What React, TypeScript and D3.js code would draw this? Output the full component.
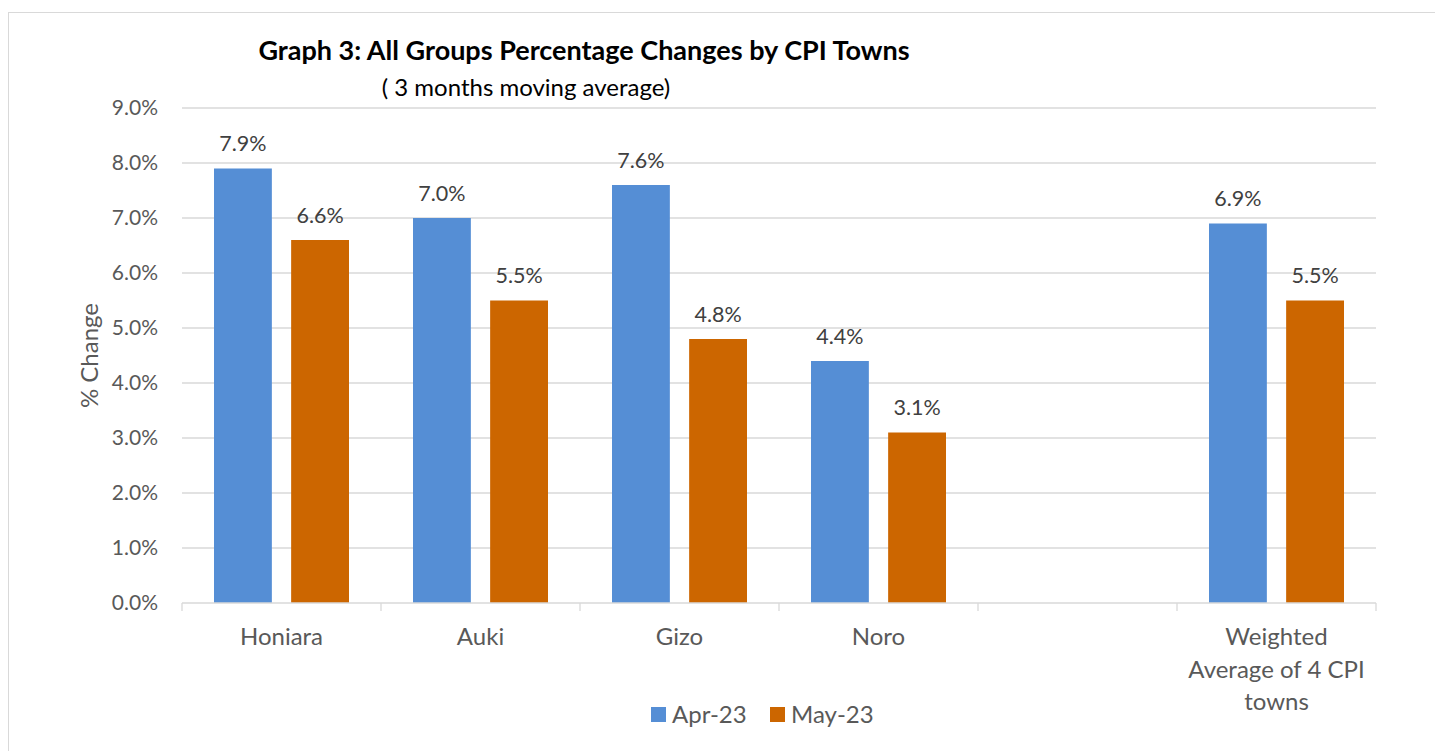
import React, { useEffect, useRef } from 'react'
import * as d3 from 'd3'

const categories = ['Honiara', 'Auki', 'Gizo', 'Noro', '', 'Weighted Average of 4 CPI towns']
const categoryLines = [['Honiara'], ['Auki'], ['Gizo'], ['Noro'], [], ['Weighted', 'Average of 4 CPI', 'towns']]
const seriesNames = ['Apr-23', 'May-23']
const apr23 = [7.9, 7.0, 7.6, 4.4, null, 6.9]
const may23 = [6.6, 5.5, 4.8, 3.1, null, 5.5]
const yTicks = [0, 1, 2, 3, 4, 5, 6, 7, 8, 9]
const colors = ['#558ed5', '#cc6600']

const FONT = 'Lato, "Open Sans", sans-serif'
const TEXT = '#595959'

export default function App() {
  const ref = useRef<SVGSVGElement | null>(null)

  useEffect(() => {
    if (!ref.current) return
    const svg = d3.select(ref.current)
    svg.selectAll('*').remove()
    const W = 1435
    const H = 751

    // chart frame (runs off the page to the right and bottom, as in the source)
    svg.append('rect')
      .attr('x', 8.5).attr('y', 12.5)
      .attr('width', W).attr('height', H)
      .attr('fill', '#fff').attr('stroke', '#d9d9d9')

    const x0 = d3.scaleBand<string>().domain(categories.map((c, i) => String(i))).range([182, 1376]).padding(0)
    const y = d3.scaleLinear().domain([0, 9]).range([603, 108])
    const x1 = d3.scaleBand<string>().domain(seriesNames).range([32, 167]).paddingInner(0.25)

    // gridlines
    svg.append('g')
      .selectAll('line')
      .data(yTicks.filter((t) => t > 0))
      .join('line')
      .attr('x1', 182).attr('x2', 1376)
      .attr('y1', (d) => y(d)).attr('y2', (d) => y(d))
      .attr('stroke', '#d9d9d9').attr('stroke-width', 1.3)

    // y tick labels
    svg.append('g')
      .selectAll('text')
      .data(yTicks)
      .join('text')
      .attr('x', 158)
      .attr('y', (d) => y(d))
      .attr('dy', '0.35em')
      .attr('text-anchor', 'end')
      .style('font-family', FONT).style('font-size', '21px').style('fill', TEXT)
      .text((d) => d3.format('.1f')(d) + '%')

    // y axis title
    svg.append('text')
      .attr('transform', `translate(98,${y(4.5)}) rotate(-90)`)
      .attr('text-anchor', 'middle')
      .style('font-family', FONT).style('font-size', '24px').style('fill', TEXT)
      .text('% Change')

    // bars
    const seriesData = [apr23, may23]
    seriesData.forEach((vals, si) => {
      const g = svg.append('g')
      const rows = vals.map((v, i) => ({ v, i })).filter((d) => d.v != null) as { v: number; i: number }[]
      g.selectAll('rect')
        .data(rows)
        .join('rect')
        .attr('x', (d) => x0(String(d.i))! + x1(seriesNames[si])!)
        .attr('width', x1.bandwidth())
        .attr('y', (d) => y(d.v))
        .attr('height', (d) => y(0) - y(d.v))
        .attr('fill', colors[si])
      g.selectAll('text')
        .data(rows)
        .join('text')
        .attr('x', (d) => x0(String(d.i))! + x1(seriesNames[si])! + x1.bandwidth() / 2)
        .attr('y', (d) => y(d.v) - 25)
        .attr('dy', '0.35em')
        .attr('text-anchor', 'middle')
        .style('font-family', FONT).style('font-size', '21.5px').style('fill', '#404040')
        .text((d) => d3.format('.1f')(d.v) + '%')
    })

    // x axis line and ticks
    const ax = svg.append('g').attr('stroke', '#d9d9d9').attr('stroke-width', 1.3)
    ax.append('line').attr('x1', 182).attr('x2', 1376).attr('y1', y(0)).attr('y2', y(0))
    const edges = categories.map((c, i) => x0(String(i))!).concat([1376])
    ax.selectAll('line.tick')
      .data(edges)
      .join('line')
      .attr('class', 'tick')
      .attr('x1', (d) => d).attr('x2', (d) => d)
      .attr('y1', y(0)).attr('y2', y(0) + 8)

    // category labels
    const cl = svg.append('g')
    categoryLines.forEach((lines, i) => {
      const cx = x0(String(i))! + x0.bandwidth() / 2
      lines.forEach((line, li) => {
        cl.append('text')
          .attr('x', cx).attr('y', 637 + li * 32.5)
          .attr('dy', '0.35em')
          .attr('text-anchor', 'middle')
          .style('font-family', FONT).style('font-size', '24px').style('fill', TEXT)
          .text(line)
      })
    })

    // titles
    svg.append('text')
      .attr('x', 584).attr('y', 51).attr('dy', '0.35em')
      .attr('text-anchor', 'middle')
      .style('font-family', FONT).style('font-size', '27px').style('font-weight', 'bold').style('fill', '#000')
      .text('Graph 3: All Groups Percentage Changes by CPI Towns')
    svg.append('text')
      .attr('x', 526).attr('y', 88).attr('dy', '0.35em')
      .attr('text-anchor', 'middle')
      .style('font-family', FONT).style('font-size', '24px').style('fill', '#000')
      .text('( 3 months moving average)')

    // legend
    const legend = svg.append('g')
    const legendX = [651, 770]
    seriesNames.forEach((s, i) => {
      legend.append('rect')
        .attr('x', legendX[i]).attr('y', 707).attr('width', 15).attr('height', 15)
        .attr('fill', colors[i])
      legend.append('text')
        .attr('x', legendX[i] + 21).attr('y', 715).attr('dy', '0.35em')
        .style('font-family', FONT).style('font-size', '24px').style('fill', TEXT)
        .text(s)
    })
  }, [])

  return (
    <svg
      ref={ref}
      width={1435}
      height={751}
      style={{ position: 'absolute', left: 0, top: 0 }}
      role="img"
      aria-label="All Groups Percentage Changes by CPI Towns"
    />
  )
}
